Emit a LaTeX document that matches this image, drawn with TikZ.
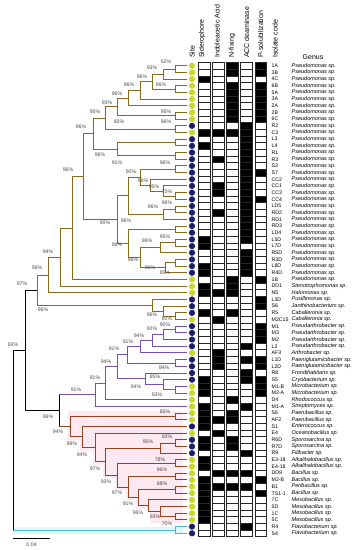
\documentclass[tikz,border=0pt]{standalone}
\usepackage{fontspec}
\setmainfont{Liberation Sans}
\usetikzlibrary{calc}
\definecolor{proteo}{HTML}{8A6A1E}
\definecolor{actino}{HTML}{7650B4}
\definecolor{firmi}{HTML}{98431F}
\definecolor{bactero}{HTML}{4FB9C8}
\definecolor{siteblue}{HTML}{1B1E6A}
\definecolor{siteyellow}{HTML}{C6D92C}
\definecolor{firmshade}{HTML}{FDE9F1}
\definecolor{flavoshade}{HTML}{DDF6FA}
\tikzset{
  branch/.style={line width=0.9pt, line cap=rect},
  boot label/.style={inner sep=0pt, text=black!70, font=\fontsize{5.2}{6}\selectfont},
  site dot/.style={circle, inner sep=0pt, minimum size=6.2pt},
  trait cell/.style={draw=black!85, line width=0.45pt},
  head label/.style={rotate=90, anchor=west, inner sep=0pt, font=\fontsize{7}{8}\selectfont},
  code label/.style={anchor=west, inner sep=0pt, font=\fontsize{5.2}{6}\selectfont},
  genus label/.style={anchor=west, inner sep=0pt, font=\fontsize{5.5}{6.5}\selectfont\itshape}
}
% a clade: colour, name, x of the joint, upper child, lower child
\newcommand\clade[5][proteo]{%
  \path ($(#4)!.5!(#5)$) coordinate (mid);
  \coordinate (#2) at ($(#3,0)!(mid)!(#3,1)$);
  \draw[branch,#1] (#2) |- (#4) (#2) |- (#5);
}

\begin{document}
\begin{tikzpicture}[x=1pt,y=-1pt]
  \useasboundingbox (0,0) rectangle (359,550);

  % pale bands behind the Firmicutes and the Flavobacterium branch
  \fill[firmshade] (68,411) -- (183,411) -- (183,523) -- (150,523) -- (150,509)
    -- (136,509) -- (136,500) -- (126,500) -- (126,490) -- (115,490) -- (115,478)
    -- (103,478) -- (103,465) -- (93,465) -- (93,451) -- (80,451) -- (80,440)
    -- (68,440) -- cycle;
  \fill[flavoshade] (13,526.5) rectangle (183,533.5);

  % column heads
  \foreach \hx/\htext [count=\i] in {192/Site, 202/Siderophore, 217/Indoleacetic Acid,
      232/N-fixing, 246.5/ACC deaminase, 260.5/P-solubilization, 275/Isolate code}
    \node[head label] (head\i) at (\hx,58) {\htext};
  \node[inner sep=0pt, font=\fontsize{7}{8}\selectfont] (genushead) at (313,57) {Genus};

  % one row per isolate: tip, site, five traits, code, genus
  \foreach \code/\genus/\site/\sa/\sb/\sc/\sd/\se
      [count=\i, evaluate=\i as \ry using 65.7+6.68*(\i-1)] in {
      1A/Pseudomonas/yellow/0/0/1/0/1, 3B/Pseudomonas/yellow/0/0/1/0/1,
      4C/Pseudomonas/yellow/1/0/0/0/0, 6B/Pseudomonas/yellow/0/0/1/0/1,
      5A/Pseudomonas/yellow/0/0/1/0/1, 3A/Pseudomonas/yellow/0/0/1/0/1,
      2A/Pseudomonas/yellow/0/0/1/0/1, 2B/Pseudomonas/yellow/0/0/1/0/1,
      6C/Pseudomonas/yellow/0/0/1/0/1, R2/Pseudomonas/blue/0/0/0/1/0,
      C3/Pseudomonas/yellow/1/1/1/1/0, L3/Pseudomonas/blue/0/0/0/1/0,
      L4/Pseudomonas/blue/1/0/0/1/0, R1/Pseudomonas/blue/0/0/0/1/0,
      R3/Pseudomonas/blue/0/1/0/1/0, S3/Pseudomonas/blue/0/0/0/1/0,
      S7/Pseudomonas/blue/0/0/0/1/1, CC2/Pseudomonas/blue/0/0/0/1/0,
      CC1/Pseudomonas/blue/0/1/0/1/0, CC3/Pseudomonas/blue/0/1/0/1/0,
      CC4/Pseudomonas/blue/0/0/0/1/1, LD5/Pseudomonas/blue/0/0/0/1/0,
      RD2/Pseudomonas/blue/0/1/0/1/0, RD1/Pseudomonas/blue/0/0/0/1/0,
      RD3/Pseudomonas/blue/0/0/0/1/0, LD4/Pseudomonas/blue/0/0/0/1/0,
      L5D/Pseudomonas/blue/1/0/0/1/0, L7D/Pseudomonas/blue/1/0/0/0/0,
      R5D/Pseudomonas/blue/0/0/0/1/0, R3D/Pseudomonas/blue/0/0/0/1/0,
      L8D/Pseudomonas/blue/1/0/0/1/0, R4D/Pseudomonas/blue/1/0/0/1/0,
      1B/Pseudomonas/yellow/0/0/1/0/1, DD1/Stenotrophomonas/yellow/1/0/1/0/0,
      N5/Halomonas/yellow/1/1/1/0/0, L3D/Pusillimonas/blue/0/0/0/0/1,
      S6/Janthinobacterium/blue/0/0/0/0/1, R5/Caballeronia/blue/1/0/1/0/0,
      M2C15/Caballeronia/yellow/0/1/0/0/0, M1/Pseudarthrobacter/blue/0/0/0/0/1,
      M3/Pseudarthrobacter/blue/0/0/0/0/1, M2/Pseudarthrobacter/blue/0/0/0/0/1,
      L2/Pseudarthrobacter/blue/0/0/0/1/0, AF3/Arthrobacter/yellow/0/1/0/0/0,
      L1D/Paeniglutamicibacter/blue/0/1/0/1/1, L2D/Paeniglutamicibacter/blue/0/1/0/0/1,
      R8/Frondihabitans/blue/0/0/0/1/0, S5/Cryobacterium/blue/1/0/0/1/1,
      M1-B/Microbacterium/yellow/1/0/0/0/1, M2-A/Microbacterium/yellow/1/0/0/0/1,
      D4/Rhodococcus/yellow/0/0/1/0/0, M1-A/Streptomyces/yellow/1/0/0/1/0,
      S6/Paenibacillus/yellow/1/0/1/0/0, AF2/Paenibacillus/yellow/1/1/1/0/0,
      S1/Enterococcus/blue/1/0/0/0/0, E4/Oceanobacillus/yellow/0/1/0/0/0,
      R6D/Sporosarcina/blue/1/0/1/0/0, R7D/Sporosarcina/blue/1/0/1/0/0,
      R9/Filibacter/blue/0/0/0/1/0, E3-18/Alkalihalobacillus/yellow/1/0/0/0/0,
      E4-18/Alkalihalobacillus/yellow/1/0/0/0/0, DD9/Bacillus/yellow/0/1/1/1/0,
      M2-B/Bacillus/yellow/1/0/0/0/1, B1/Peribacillus/yellow/1/1/1/1/0,
      TS1-1/Bacillus/yellow/1/0/0/0/1, 7C/Mesobacillus/yellow/1/0/0/0/0,
      5D/Mesobacillus/yellow/1/0/0/0/0, 1C/Mesobacillus/yellow/1/0/0/0/0,
      5C/Mesobacillus/yellow/1/0/0/0/0, R4/Flavobacterium/blue/0/0/0/1/0,
      S4/Flavobacterium/blue/0/0/0/0/0}{
    \coordinate (l\i) at (187,\ry);
    \node[site dot, fill=site\site] (dot\i) at (192,\ry) {};
    \foreach \v [count=\j] in {\sa,\sb,\sc,\sd,\se}{
      \ifnum\v=1 \def\cellfill{black}\else\def\cellfill{white}\fi
      \draw[trait cell, fill=\cellfill] ({184.3+14.1*\j},{\ry-3.34}) rectangle ++(11.6,6.68);
    }
    \node[code label] (code\i) at (271.5,\ry) {\code};
    \node[genus label] (genus\i) at (291.5,\ry) {\genus\ sp.};
  }

  % Pseudomonas
  \clade{a1}{175}{l1}{l2}   \clade{a2}{163}{a1}{l3}
  \clade{b1}{175}{l4}{l5}   \clade{a3}{152}{a2}{b1}
  \clade{a4}{140}{a3}{l6}   \clade{a5}{128}{a4}{l7}
  \clade{b2}{175}{l8}{l9}   \clade{a6}{117}{a5}{b2}
  \clade{b3}{175}{l10}{l11} \clade{a7}{105}{a6}{b3}
  \clade{c1}{175}{l12}{l13} \clade{c2}{175}{l14}{l15}
  \clade{c3}{117}{c1}{c2}   \clade{a8}{93}{a7}{c3}
  \clade{g1}{175}{l16}{l17} \clade{f1}{175}{l20}{l21}
  \clade{f2}{163}{l19}{f1}  \clade{f3}{150}{l18}{f2}
  \clade{f4}{140}{g1}{f3}   \clade{d1}{175}{l22}{l23}
  \clade{d2}{163}{d1}{l24}  \clade{d3}{128}{f4}{d2}
  \clade{h1}{175}{l25}{l26} \clade{e1}{175}{l27}{l28}
  \clade{e2}{160}{e1}{l29}  \clade{e3}{175}{l30}{l31}
  \clade{e4}{165}{e3}{l32}  \clade{e5}{140}{e2}{e4}
  \clade{d4}{128}{h1}{e5}   \clade{d5}{117}{d3}{d4}
  \clade{n83}{83}{a8}{d5}   \clade{n72}{72}{n83}{l33}
  \clade{n60}{60}{n72}{l34} \clade{n48}{48}{n60}{l35}
  % Burkholderiales
  \clade{k1}{175}{l38}{l39} \clade{k2}{163}{l37}{k1}
  \clade{k3}{152}{l36}{k2}  \clade{n37}{37}{n48}{k3}
  % Actinomycetota
  \clade[actino]{p1}{175}{l40}{l41} \clade[actino]{p2}{163}{p1}{l42}
  \clade[actino]{p3}{152}{p2}{l43}  \clade[actino]{p4}{140}{p3}{l44}
  \clade[actino]{q0}{175}{l45}{l46} \clade[actino]{p5}{127}{p4}{q0}
  \clade[actino]{q1}{175}{l49}{l50} \clade[actino]{q2}{163}{l48}{q1}
  \clade[actino]{q3}{145}{l47}{q2}  \clade[actino]{p6}{117}{p5}{q3}
  \clade[actino]{p7}{105}{p6}{l51}  \clade[actino]{p8}{95}{p7}{l52}
  % Bacillota
  \clade[firmi]{s1}{175}{l53}{l54}  \clade[firmi]{s2}{175}{l57}{l58}
  \clade[firmi]{s3}{160}{s2}{l59}   \clade[firmi]{s4}{175}{l60}{l61}
  \clade[firmi]{s5}{175}{l62}{l63}  \clade[firmi]{s6}{175}{l64}{l65}
  \clade[firmi]{t9}{175}{l68}{l69}  \clade[firmi]{t8}{160}{l67}{t9}
  \clade[firmi]{t7}{148}{l66}{t8}   \clade[firmi]{t6}{138}{s6}{t7}
  \clade[firmi]{t5}{128}{s5}{t6}    \clade[firmi]{t4}{117}{s4}{t5}
  \clade[firmi]{t3}{105}{s3}{t4}    \clade[firmi]{t2}{95}{l56}{t3}
  \clade[firmi]{t1}{82}{l55}{t2}    \clade[firmi]{t0}{70}{s1}{t1}
  % backbone
  \clade[bactero]{fl}{175}{l70}{l71}
  \clade[black]{nAF}{59}{p8}{t0}
  \draw[branch,actino] (nAF |- p8) -- (p8);
  \draw[branch,firmi] (nAF |- t0) -- (t0);
  \clade[black]{n25}{25}{n37}{nAF}
  \clade[black]{root}{13}{n25}{fl}
  \draw[branch,bactero] (root |- fl) -- (fl);

  % bootstrap support
  \foreach \bx/\by/\bv [count=\i] in {166/62/62, 152/68/93, 142/77/96, 161/85/96,
      129/85/96, 117/94/96, 107/103/93, 95/112/95, 166/112/95, 119/122/85,
      166/122/96, 81/127/96, 100/155/96, 117/163/91, 165/163/96, 131/172/90,
      143/181/96, 154/187/95, 167/192/75, 68/170/96, 105/223/90, 167/203/96,
      153/207/96, 126/221/96, 117/245/96, 165/237/95, 147/241/96, 133/260/96,
      150/268/96, 165/273/95, 48/252/94, 37/268/56, 22/284/97, 43/310/96,
      152/315/96, 167/319/91, 13/345/93, 165/325/90, 152/329/92, 139/336/94,
      128/342/91, 114/349/91, 106/362/94, 164/368/94, 155/377/85, 136/387/94,
      95/378/91, 76/390/91, 157/395/93, 48/417/96, 165/412/85, 58/432/94,
      167/437/93, 148/442/95, 72/444/89, 160/460/78, 82/455/94, 162/470/96,
      95/469/97, 162/484/88, 106/482/93, 117/493/97, 128/504/91, 138/513/96,
      155/517/93, 167/524/70}
    \node[boot label] (bs\i) at (\bx,\by) {\bv\%};

  % scale bar
  \coordinate (sb0) at (13,538);
  \coordinate (sb1) at (50,538);
  \draw[line width=0.7pt] (sb0) -- (sb1);
  \node[boot label] (sbtext) at (31.5,545) {0.04};
\end{tikzpicture}
\end{document}
